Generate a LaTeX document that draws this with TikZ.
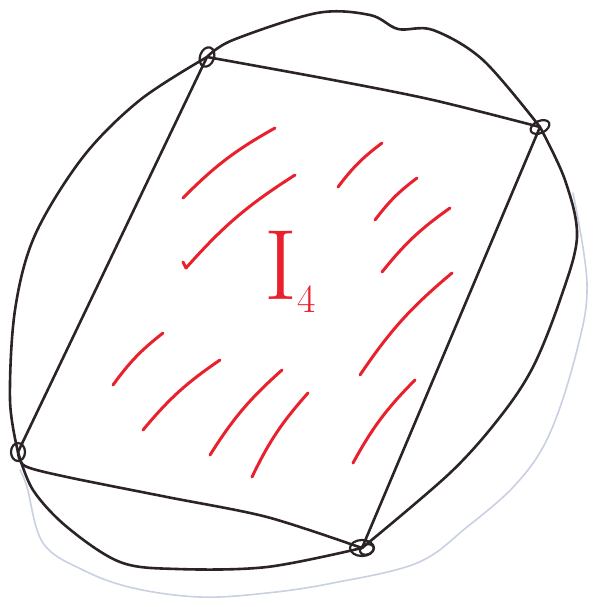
\documentclass[tikz,border=0pt]{standalone}
\usetikzlibrary{calc}
\definecolor{ink}{HTML}{2B2327}
\definecolor{penred}{HTML}{E8212C}
\definecolor{ghostblue}{HTML}{C9D0E2}
\tikzset{
  rim/.style={line width=1.3pt,draw=ink,line cap=round,line join=round},
  ghost/.style={line width=0.8pt,draw=ghostblue,line cap=round},
  hatch/.style={line width=1.5pt,draw=penred,line cap=round},
  knot/.style={line width=1.1pt,draw=ink}
}
\begin{document}
\begin{tikzpicture}[x=0.5pt,y=-0.5pt]
    \useasboundingbox (0,0) rectangle (597,607);
    \coordinate (a) at (207,57);
    \coordinate (b) at (540,127);
    \coordinate (c) at (362,548);
    \coordinate (d) at (18,452);
    % show-through from the back of the sheet
    \draw[ghost] plot[smooth,tension=0.6] coordinates {(573,193) (587,283) (577,350) (550,433) (517,483) (467,527) (417,563) (333,583) (267,593) (200,597) (133,588) (83,570) (43,543) (27,487) (20,470)};
    % the circle, vertex to vertex
    \draw[rim] plot[smooth,tension=0.55] coordinates {(a) (233,40) (317,13) (370,15) (398,29) (433,30) (483,60) (b)};
    \draw[rim] plot[smooth,tension=0.55] coordinates {(b) (565,180) (577,237) (560,300) (533,367) (500,417) (450,473) (c)};
    \draw[rim] plot[smooth,tension=0.55] coordinates {(c) (267,567) (177,569) (120,562) (67,527) (33,490) (d)};
    \draw[rim] plot[smooth,tension=0.55] coordinates {(d) (10,400) (15,310) (35,235) (83,157) (140,100) (a)};
    % the inscribed quadrilateral
    \draw[rim] plot[smooth] coordinates {(a) (333,80) (433,100) (b)};
    \draw[rim] (b) -- (c);
    \draw[rim] plot[smooth] coordinates {(c) (267,517) (167,497) (67,477) (25,466) (d)};
    \draw[rim] (d) -- (a);
    % knots at the vertices
    \draw[knot,rotate around={-20:(a)}] (a) ellipse [x radius=7,y radius=10];
    \draw[knot,rotate around={25:(b)}] (b) ellipse [x radius=10,y radius=6];
    \draw[knot] (c) ellipse [x radius=12,y radius=8];
    \draw[knot,rotate around={20:(c)}] ($(c)+(4,3)$) ellipse [x radius=7,y radius=5];
    \draw[knot] (d) ellipse [x radius=7,y radius=9];
    % red hatching
    \foreach \sx/\sy/\ex/\ey in {183/198/275/128, 186/268/295/175, 338/187/382/143,
        375/220/417/178, 382/272/450/208, 360/375/452/273, 113/385/163/333,
        143/430/220/360, 210/455/282/370, 252/477/308/393, 353/463/415/380}
      \draw[hatch] (\sx,\sy) to[bend left=8] (\ex,\ey);
    \draw[hatch] (183,262) -- (186,268);
    \node[text=penred,inner sep=0pt] (lbl) at (290,272)
      {\fontsize{50}{50}\selectfont I\raisebox{-6.5pt}{\fontsize{20}{20}\selectfont 4}};
\end{tikzpicture}
\end{document}
